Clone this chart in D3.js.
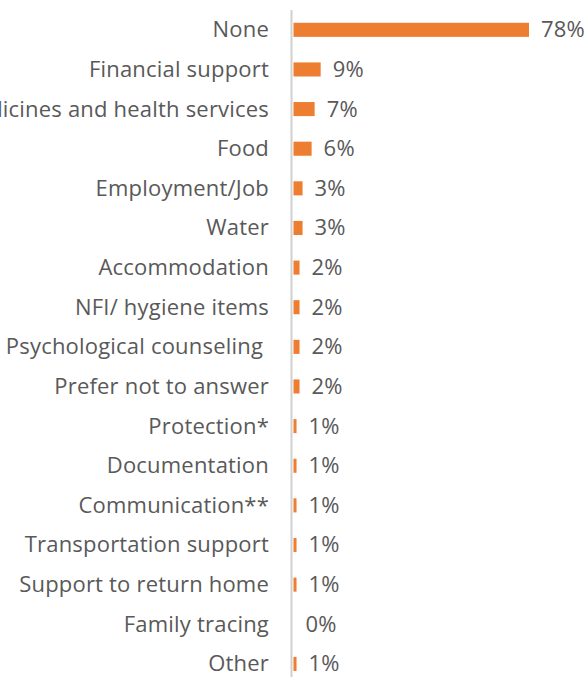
<!DOCTYPE html>
<html>
<head>
<meta charset="utf-8">
<script src="https://cdn.jsdelivr.net/npm/d3@7"></script>
<style>
  html, body { margin: 0; padding: 0; background: #fff; }
  svg { display: block; }
  text { font-family: "Open Sans", Lato, sans-serif; fill: #595959; white-space: pre; letter-spacing: 0.2px; }
</style>
</head>
<body>
<svg id="chart" width="588" height="677"></svg>
<script>
// Needs reported by respondents (share of respondents, %)
const categories = [
  "None",
  "Financial support",
  "Medicines and health services",
  "Food",
  "Employment/Job",
  "Water",
  "Accommodation",
  "NFI/ hygiene items",
  "Psychological counseling ",
  "Prefer not to answer",
  "Protection*",
  "Documentation",
  "Communication**",
  "Transportation support",
  "Support to return home",
  "Family tracing",
  "Other"
];
const values = [78, 9, 7, 6, 3, 3, 2, 2, 2, 2, 1, 1, 1, 1, 1, 0, 1];

const svg = d3.select("#chart");
const axisX = 291.5;
const barX0 = 293.5;
const fontSize = 22;

const x = d3.scaleLinear().domain([0, 78]).range([barX0, 529]);
const y = d3.scaleBand()
  .domain(categories)
  .range([10, 10 + 17 * 39.63])
  .paddingInner(0.645)
  .paddingOuter(0.3225);

const rows = categories.map((c, i) => ({ cat: c, val: values[i] }));

// bars
svg.append("g").selectAll("rect")
  .data(rows)
  .join("rect")
  .attr("x", x(0))
  .attr("y", d => y(d.cat))
  .attr("width", d => x(d.val) - x(0))
  .attr("height", y.bandwidth())
  .attr("fill", "#ED7D31");

// category axis line
svg.append("line")
  .attr("x1", axisX).attr("x2", axisX)
  .attr("y1", 10).attr("y2", 690)
  .attr("stroke", "#d0d0d0")
  .attr("stroke-width", 2);

// category labels
svg.append("g").selectAll("text")
  .data(rows)
  .join("text")
  .attr("x", 269)
  .attr("y", d => y(d.cat) + y.bandwidth() / 2)
  .attr("dy", "0.34em")
  .attr("text-anchor", "end")
  .attr("font-size", fontSize)
  .text(d => d.cat);

// value labels
svg.append("g").selectAll("text")
  .data(rows)
  .join("text")
  .attr("x", d => x(d.val) + 12)
  .attr("y", d => y(d.cat) + y.bandwidth() / 2)
  .attr("dy", "0.34em")
  .attr("text-anchor", "start")
  .attr("font-size", fontSize)
  .text(d => d.val + "%");
</script>
</body>
</html>
